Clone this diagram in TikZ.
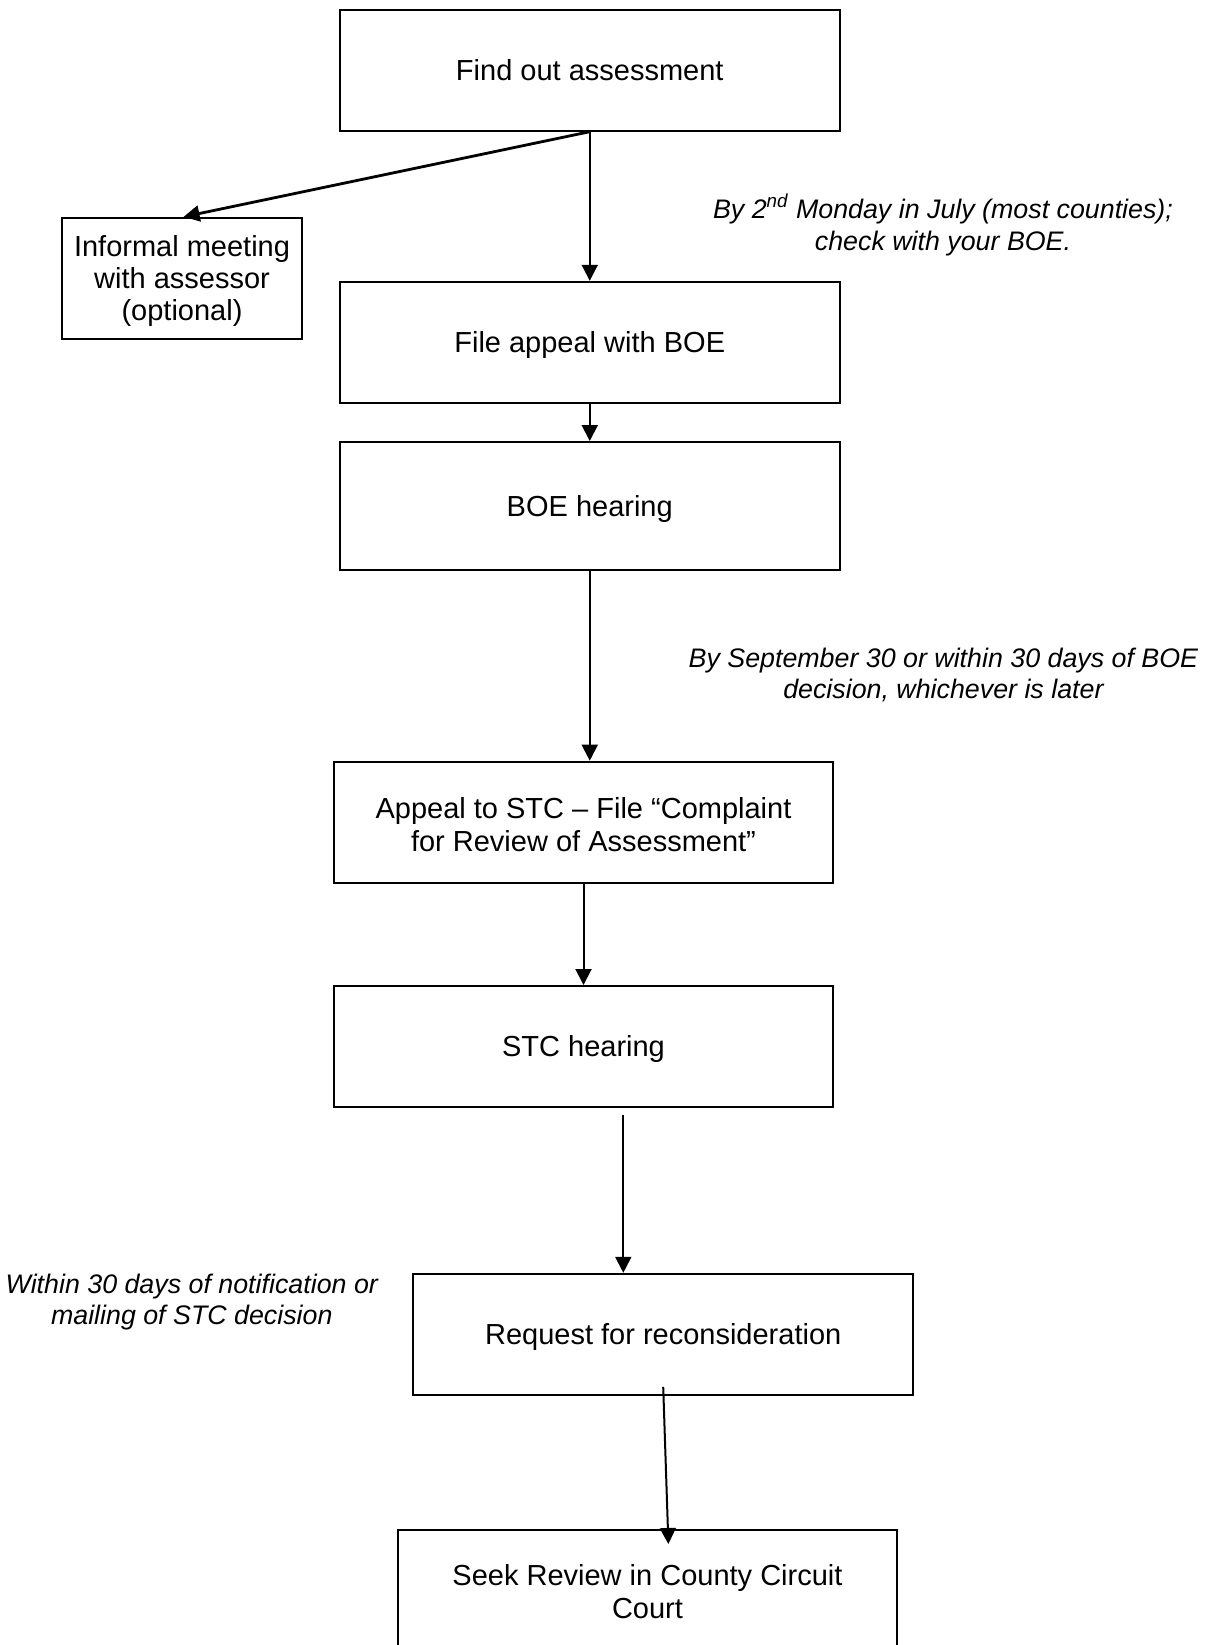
\documentclass[tikz,border=0pt]{standalone}
\usepackage{fontspec}
\setmainfont{Liberation Sans}
\usetikzlibrary{arrows.meta,calc}
\tikzset{
  stepbox/.style={draw=black, line width=1pt, rectangle, align=center, inner sep=0pt,
    font=\fontsize{14.5pt}{16.5pt}\selectfont, minimum width=249.75pt, minimum height=60.5pt},
  oneline/.style={text height=12pt, text depth=1.6pt},
  note/.style={align=center, inner sep=0pt, font=\fontsize{13.4pt}{15.8pt}\selectfont\itshape},
  arr/.style={draw=black, line width=1pt, -{Triangle[length=8pt,width=8pt]}},
}
\begin{document}
\begin{tikzpicture}[x=0.5pt,y=-0.5pt]
\useasboundingbox (0,0) rectangle (1212,1645);
\clip (0,0) rectangle (1212,1645);
% boxes
\node[stepbox, oneline] (find) at (589.75,70.2) {Find out assessment};
\node[stepbox, minimum width=120.15pt] (inf) at (182,278.3) {};
\node[align=center, inner sep=0pt, font=\fontsize{14.5pt}{16pt}\selectfont] (inftext) at (182,280.5) {Informal meeting\\with assessor\\(optional)};
\node[stepbox, oneline] (file) at (589.75,342.3) {File appeal with BOE};
\node[stepbox, oneline, minimum height=64pt] (boe) at (589.75,506) {BOE hearing};
\node[stepbox] (stc) at (583.5,822.2) {};
\node[align=center, inner sep=0pt, font=\fontsize{14.5pt}{16.5pt}\selectfont] (stctext) at (583.5,824.5) {Appeal to STC – File “Complaint\\for Review of Assessment”};
\node[stepbox, oneline] (stch) at (583.5,1046.5) {STC hearing};
\node[stepbox, oneline] (req) at (663.2,1334.3) {Request for reconsideration};
\node[stepbox] (seek) at (647.5,1590.5) {};
\node[align=center, inner sep=0pt, font=\fontsize{14.5pt}{16.5pt}\selectfont] (seektext) at (647.5,1592) {Seek Review in County Circuit\\Court};
% notes
\node[note] (n1) at (943,225) {By 2\textsuperscript{nd} Monday in July (most counties);\\check with your BOE.};
\node[note] (n2) at (943.4,675) {By September 30 or within 30 days of BOE\\decision, whichever is later};
\node[note] (n3) at (191.8,1302) {Within 30 days of notification or\\mailing of STC decision};
% connectors
\draw[arr] (find.south) -- (file.north);
\draw[arr, line width=1.4pt] (find.south) -- ([xshift=0.8pt]inf.north);
\draw[arr] (file.south) -- (boe.north);
\draw[arr] (boe.south) -- (boe.south |- stc.north);
\draw[arr] (stc.south) -- (stch.north);
\draw[arr] ([xshift=19.9pt,yshift=-3.5pt]stch.south) -- ([xshift=-19.95pt]req.north);
\draw[arr] ([yshift=4.5pt]req.south) -- ([xshift=10.45pt,yshift=-7.5pt]seek.north);
\end{tikzpicture}
\end{document}
